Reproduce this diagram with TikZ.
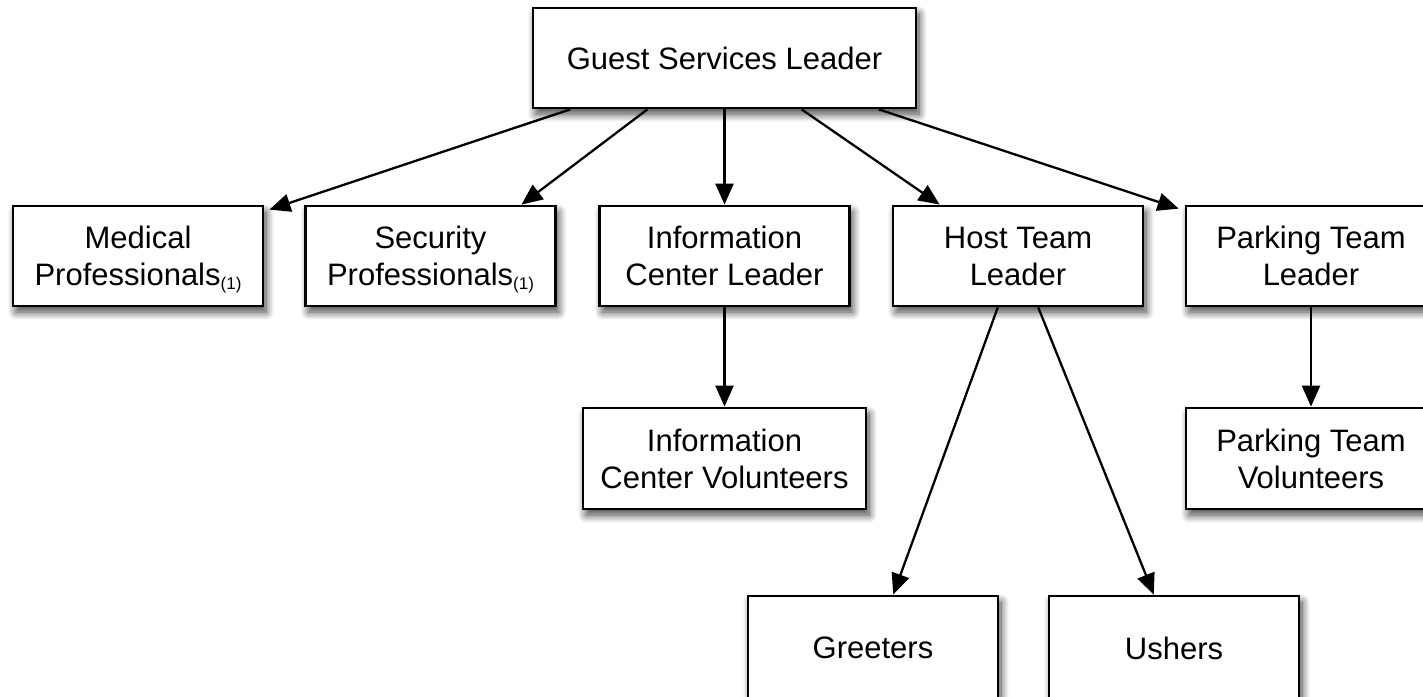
\documentclass[tikz,border=0pt]{standalone}
\usepackage{fontspec}
\setmainfont{Liberation Sans}
\usetikzlibrary{arrows.meta,calc,shadows.blur}
\newcommand{\sub}[1]{\raisebox{-4pt}[0pt][0pt]{\fontsize{17}{17}\selectfont #1}}
\tikzset{
  box/.style={draw=black, line width=2.8pt, fill=white, minimum width=250pt,
    minimum height=100pt, align=center, inner sep=0pt,
    font=\fontsize{31}{37}\selectfont,
    blur shadow={shadow xshift=3pt, shadow yshift=-6pt, shadow blur radius=8pt,
      shadow blur steps=12, shadow opacity=75}},
  arr/.style={line width=2.3pt, -{Triangle[length=21pt,width=18pt]}}
}
\begin{document}
\begin{tikzpicture}[x=1pt,y=-1pt]
\useasboundingbox (0,0) rectangle (1423,696);
\node[box, minimum width=383pt] (gsl) at (724.5,58) {Guest Services Leader};
\node[box] (med) at (138,256) {Medical\\Professionals\sub{(1)}};
\node[box] (sec) at (430.5,256) {Security\\Professionals\sub{(1)}};
\node[box] (icl) at (724.5,256) {Information\\Center Leader};
\node[box] (htl) at (1018,256) {Host Team\\Leader};
\node[box] (ptl) at (1311,256) {Parking Team\\Leader};
\node[box, minimum width=283pt, minimum height=101pt] (icv) at (724.5,458.5) {Information\\Center Volunteers};
\node[box, minimum height=101pt] (ptv) at (1311,458.5) {Parking Team\\Volunteers};
\node[box, minimum height=104pt] (gre) at (873,648) {Greeters};
\node[box, minimum height=104pt] (ush) at (1174,648) {Ushers};

\draw[arr] ($(gsl.south west)!0.1!(gsl.south east)$) -- ($(med.north east)+(5,5)$);
\draw[arr] ($(gsl.south west)!0.3!(gsl.south east)$) -- ($(sec.north west)!0.86!(sec.north east)$);
\draw[arr] (gsl.south) -- (icl.north);
\draw[arr] ($(gsl.south west)!0.7!(gsl.south east)$) -- ($(htl.north west)!0.19!(htl.north east)$);
\draw[arr] ($(gsl.south west)!0.9!(gsl.south east)$) -- ($(ptl.north west)+(-6,4)$);
\draw[arr] (icl.south) -- (icv.north);
\draw[arr] (ptl.south) -- (ptv.north);
\draw[arr] ($(htl.south west)!0.42!(htl.south east)$) -- ($(gre.north west)!0.58!(gre.north east)$);
\draw[arr] ($(htl.south west)!0.58!(htl.south east)$) -- ($(ush.north west)!0.42!(ush.north east)$);
\end{tikzpicture}
\end{document}
